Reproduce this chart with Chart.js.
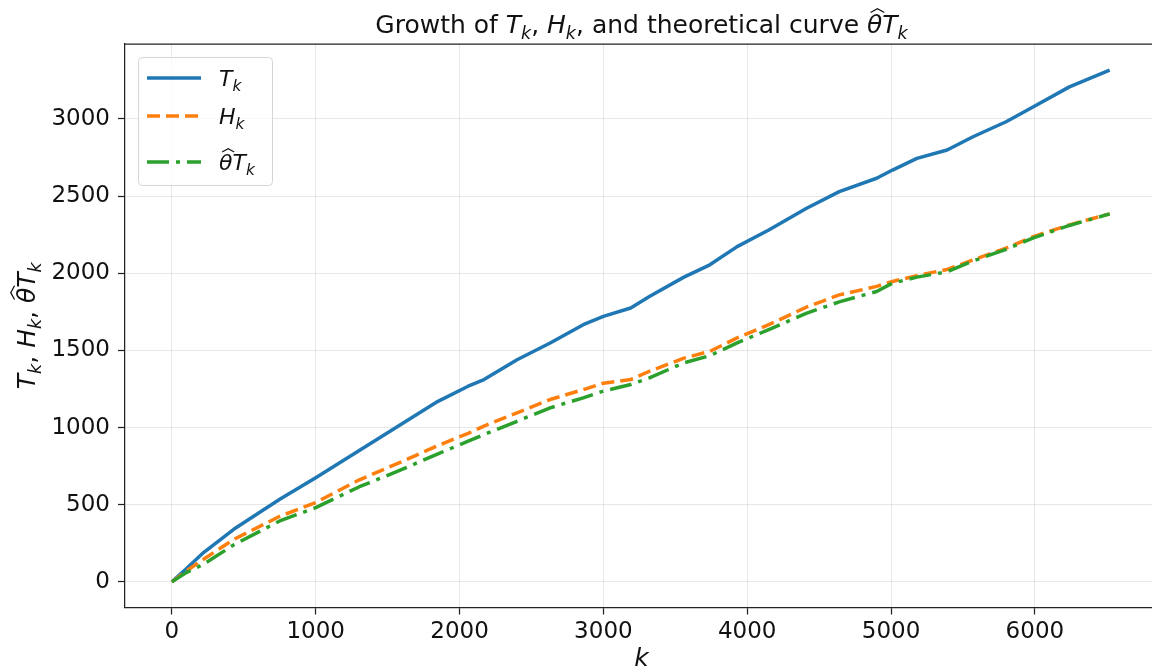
<!DOCTYPE html>
<html>
<head>
<meta charset="utf-8">
<script src="https://cdn.jsdelivr.net/npm/chart.js@4"></script>
<style>
  html, body { margin: 0; padding: 0; background: #fff; overflow: hidden; width: 1152px; height: 670px; }
  #wrap { width: 1180px; height: 670px; }
</style>
</head>
<body>
<div id="wrap"><canvas id="chart" width="1180" height="670"></canvas></div>
<script>
// values
const kValues = [0, 100, 220, 430, 750, 1000, 1300, 1600, 1850, 2060, 2170, 2400, 2630, 2860, 3000, 3190,
  3320, 3560, 3740, 3930, 4150, 4410, 4640, 4900, 5010, 5180, 5390, 5570, 5800, 5990, 6240, 6520];
const tValues = [0, 85, 190, 341, 535, 675, 850, 1025, 1170, 1268, 1311, 1440, 1548, 1667, 1721, 1775,
  1850, 1975, 2055, 2173, 2281, 2420, 2529, 2616, 2669, 2745, 2799, 2885, 2982, 3079, 3208, 3316];
const hValues = [0, 70, 147, 275, 425, 514, 660, 780, 884, 962, 1010, 1096, 1182, 1246, 1288, 1311,
  1365, 1450, 1494, 1581, 1667, 1780, 1860, 1915, 1947, 1985, 2025, 2087, 2163, 2238, 2314, 2385];
const thetaTValues = [0, 60, 114, 240, 395, 481, 615, 729, 830, 912, 955, 1041, 1128, 1193, 1237, 1279,
  1322, 1420, 1466, 1549, 1635, 1740, 1815, 1882, 1936, 1975, 2010, 2080, 2155, 2230, 2310, 2385];

const xTickValues = [0, 1000, 2000, 3000, 4000, 5000, 6000];
const yTickValues = [0, 500, 1000, 1500, 2000, 2500, 3000];

// math-ish text pieces: t = text, it = italic, sub = subscript, hat = wide hat
const titleParts = [
  {t: 'Growth of '}, {t: 'T', it: 1}, {t: 'k', it: 1, sub: 1}, {t: ', '},
  {t: 'H', it: 1}, {t: 'k', it: 1, sub: 1}, {t: ', and theoretical curve '},
  {t: 'θ', it: 1, hat: 1}, {t: 'T', it: 1}, {t: 'k', it: 1, sub: 1}
];
const yLabelParts = [
  {t: 'T', it: 1}, {t: 'k', it: 1, sub: 1}, {t: ', '}, {t: 'H', it: 1}, {t: 'k', it: 1, sub: 1},
  {t: ', '}, {t: 'θ', it: 1, hat: 1}, {t: 'T', it: 1}, {t: 'k', it: 1, sub: 1}
];
const xLabelParts = [{t: 'k', it: 1}];
const legendParts = [
  [{t: 'T', it: 1}, {t: 'k', it: 1, sub: 1}],
  [{t: 'H', it: 1}, {t: 'k', it: 1, sub: 1}],
  [{t: 'θ', it: 1, hat: 1}, {t: 'T', it: 1}, {t: 'k', it: 1, sub: 1}]
];

const FONT = '"DejaVu Sans", sans-serif';

function partFont(p, size) {
  const s = p.sub ? size * 0.7 : size;
  return (p.it ? 'italic ' : '') + s + 'px ' + FONT;
}

function mathWidth(ctx, parts, size) {
  let w = 0;
  parts.forEach(p => { ctx.font = partFont(p, size); w += ctx.measureText(p.t).width; });
  return w;
}

function drawMath(ctx, parts, x, y, size, align) {
  const total = mathWidth(ctx, parts, size);
  let cx = align === 'left' ? x : x - total / 2;
  ctx.textBaseline = 'alphabetic';
  ctx.textAlign = 'left';
  parts.forEach(p => {
    ctx.font = partFont(p, size);
    const w = ctx.measureText(p.t).width;
    const yy = p.sub ? y + size * 0.22 : y;
    ctx.fillText(p.t, cx, yy);
    if (p.hat) {
      ctx.save();
      ctx.strokeStyle = ctx.fillStyle;
      ctx.lineWidth = size * 0.05;
      ctx.beginPath();
      const off = size * 0.08;
      ctx.moveTo(cx + w * 0.1 + off, y - size * 0.82);
      ctx.lineTo(cx + w * 0.55 + off, y - size * 0.97);
      ctx.lineTo(cx + w * 1.0 + off, y - size * 0.82);
      ctx.stroke();
      ctx.restore();
    }
    cx += w;
  });
}

const decorPlugin = {
  id: 'decor',
  afterDraw(chart) {
    const ctx = chart.ctx;
    const a = chart.chartArea;
    ctx.save();
    // top spine
    ctx.strokeStyle = '#222';
    ctx.lineWidth = 1.25;
    ctx.beginPath();
    ctx.moveTo(a.left, a.top);
    ctx.lineTo(a.right, a.top);
    ctx.lineTo(a.right, a.bottom);
    ctx.stroke();

    ctx.fillStyle = '#111';
    drawMath(ctx, titleParts, (a.left + a.right) / 2, 33, 25, 'center');
    drawMath(ctx, xLabelParts, (a.left + a.right) / 2, 666, 25, 'center');

    ctx.save();
    ctx.translate(35, (a.top + a.bottom) / 2);
    ctx.rotate(-Math.PI / 2);
    drawMath(ctx, yLabelParts, 0, 0, 25, 'center');
    ctx.restore();

    // legend
    const bx = 138, by = 57, bw = 134, bh = 128;
    ctx.fillStyle = 'rgba(255,255,255,0.8)';
    ctx.strokeStyle = '#d5d5d5';
    ctx.lineWidth = 1;
    ctx.beginPath();
    ctx.roundRect(bx + 0.5, by + 0.5, bw, bh, 4);
    ctx.fill();
    ctx.stroke();
    const rows = [78, 116, 162];
    chart.data.datasets.forEach((ds, i) => {
      ctx.strokeStyle = ds.borderColor;
      ctx.lineWidth = ds.borderWidth;
      ctx.setLineDash(ds.borderDash || []);
      ctx.beginPath();
      ctx.moveTo(147, rows[i]);
      ctx.lineTo(201, rows[i]);
      ctx.stroke();
      ctx.setLineDash([]);
      ctx.fillStyle = '#111';
      drawMath(ctx, legendParts[i], 219, rows[i] + 8, 22, 'left');
    });
    ctx.restore();
  }
};

const toPoints = vals => kValues.map((k, i) => ({x: k, y: vals[i]}));

new Chart(document.getElementById('chart'), {
  type: 'line',
  data: {
    datasets: [
      { label: 'T_k', data: toPoints(tValues), borderColor: '#1f77b4', borderWidth: 3.5, order: 2 },
      { label: 'H_k', data: toPoints(hValues), borderColor: '#ff7f0e', borderWidth: 3.5, borderDash: [13, 6], order: 1 },
      { label: 'theta T_k', data: toPoints(thetaTValues), borderColor: '#2ca02c', borderWidth: 3.5, borderDash: [22, 7, 4, 7], order: 0 }
    ]
  },
  options: {
    responsive: false,
    animation: false,
    layout: { padding: { left: 0, top: 44, right: 22, bottom: 0 } },
    elements: { point: { radius: 0 }, line: { tension: 0, borderJoinStyle: 'round' } },
    plugins: { legend: { display: false }, title: { display: false }, tooltip: { enabled: false } },
    scales: {
      x: {
        type: 'linear',
        min: -326,
        max: 6856,
        afterFit: s => { s.height = 62.5; },
        afterBuildTicks: s => { s.ticks = xTickValues.map(v => ({value: v})); },
        grid: { color: 'rgba(176,176,176,0.3)', lineWidth: 1, tickLength: 7, tickColor: '#222', tickWidth: 1.25 },
        border: { color: '#222', width: 1.25 },
        ticks: { color: '#111', font: { family: FONT, size: 23 }, padding: 4, maxRotation: 0, includeBounds: false,
          callback: v => String(v) }
      },
      y: {
        type: 'linear',
        min: -166,
        max: 3486,
        afterFit: s => { s.width = 125; },
        afterBuildTicks: s => { s.ticks = yTickValues.map(v => ({value: v})); },
        grid: { color: 'rgba(176,176,176,0.3)', lineWidth: 1, tickLength: 7, tickColor: '#222', tickWidth: 1.25 },
        border: { color: '#222', width: 1.25 },
        ticks: { color: '#111', font: { family: FONT, size: 23 }, padding: 8, includeBounds: false,
          callback: v => String(v) }
      }
    }
  },
  plugins: [decorPlugin]
});
</script>
</body>
</html>
